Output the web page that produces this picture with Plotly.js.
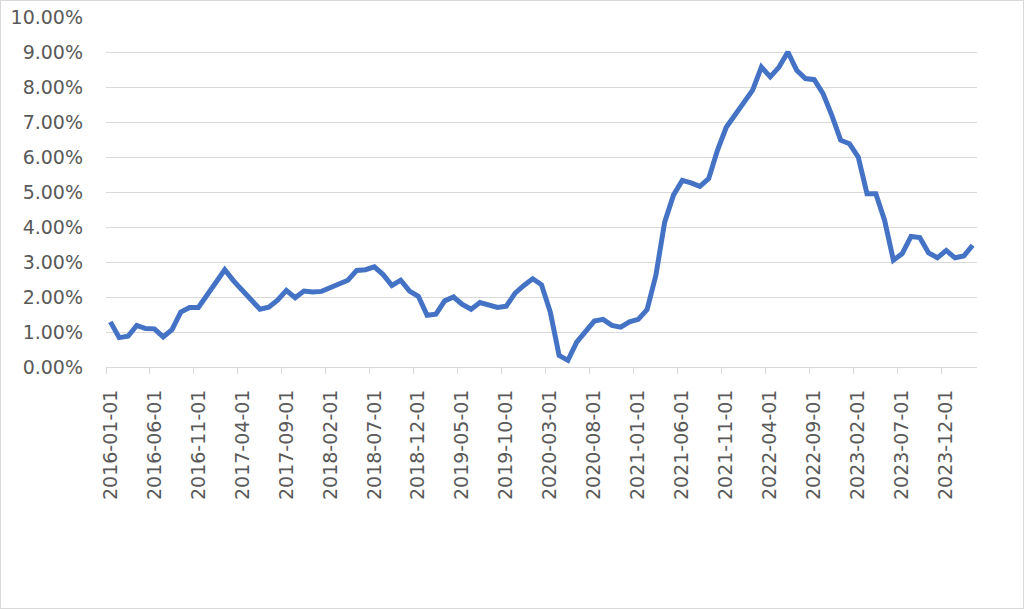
<!DOCTYPE html>
<html>
<head>
<meta charset="utf-8">
<script src="https://cdn.plot.ly/plotly-3.0.1.min.js"></script>
<style>
html,body{margin:0;padding:0;background:#fff;}
#wrap{position:relative;width:1024px;height:609px;}
#plot{position:absolute;left:0;top:0;width:1024px;height:609px;}
#frame{position:absolute;left:0;top:0;width:1024px;height:609px;box-sizing:border-box;border:1px solid #d9d9d9;pointer-events:none;}
</style>
</head>
<body>
<div id="wrap"><div id="plot"></div><div id="frame"></div></div>
<script>
const months = [
"2016-01-01","2016-02-01","2016-03-01","2016-04-01","2016-05-01","2016-06-01","2016-07-01","2016-08-01","2016-09-01","2016-10-01","2016-11-01","2016-12-01",
"2017-01-01","2017-02-01","2017-03-01","2017-04-01","2017-05-01","2017-06-01","2017-07-01","2017-08-01","2017-09-01","2017-10-01","2017-11-01","2017-12-01",
"2018-01-01","2018-02-01","2018-03-01","2018-04-01","2018-05-01","2018-06-01","2018-07-01","2018-08-01","2018-09-01","2018-10-01","2018-11-01","2018-12-01",
"2019-01-01","2019-02-01","2019-03-01","2019-04-01","2019-05-01","2019-06-01","2019-07-01","2019-08-01","2019-09-01","2019-10-01","2019-11-01","2019-12-01",
"2020-01-01","2020-02-01","2020-03-01","2020-04-01","2020-05-01","2020-06-01","2020-07-01","2020-08-01","2020-09-01","2020-10-01","2020-11-01","2020-12-01",
"2021-01-01","2021-02-01","2021-03-01","2021-04-01","2021-05-01","2021-06-01","2021-07-01","2021-08-01","2021-09-01","2021-10-01","2021-11-01","2021-12-01",
"2022-01-01","2022-02-01","2022-03-01","2022-04-01","2022-05-01","2022-06-01","2022-07-01","2022-08-01","2022-09-01","2022-10-01","2022-11-01","2022-12-01",
"2023-01-01","2023-02-01","2023-03-01","2023-04-01","2023-05-01","2023-06-01","2023-07-01","2023-08-01","2023-09-01","2023-10-01","2023-11-01","2023-12-01",
"2024-01-01","2024-02-01","2024-03-01"
];
const inflation = [
1.29,0.84,0.88,1.19,1.10,1.09,0.86,1.07,1.57,1.70,1.70,2.05,
2.46,2.78,2.46,2.19,1.89,1.65,1.71,1.91,2.19,1.98,2.17,2.14,
2.16,2.27,2.35,2.48,2.76,2.78,2.86,2.64,2.33,2.48,2.17,2.02,
1.48,1.51,1.89,2.00,1.79,1.65,1.84,1.76,1.70,1.74,2.11,2.33,
2.52,2.35,1.57,0.33,0.19,0.71,1.03,1.31,1.36,1.19,1.14,1.29,
1.36,1.64,2.62,4.14,4.91,5.33,5.26,5.16,5.38,6.19,6.85,7.19,
7.52,7.91,8.57,8.29,8.57,9.00,8.48,8.24,8.21,7.81,7.19,6.48,
6.38,6.00,4.95,4.95,4.19,3.05,3.24,3.73,3.70,3.26,3.12,3.33,
3.12,3.17,3.48
];

const fontFam = "DejaVu Sans, sans-serif";
const trace = {
  x: months,
  y: inflation,
  type: 'scatter',
  mode: 'lines',
  line: {color: '#4472C4', width: 5},
  hoverinfo: 'x+y'
};
const layout = {
  width: 1024, height: 609,
  margin: {l: 106, r: 47, t: 17, b: 242},
  paper_bgcolor: '#ffffff',
  plot_bgcolor: '#ffffff',
  showlegend: false,
  font: {family: fontFam, size: 19, color: '#595959'},
  xaxis: {
    type: 'category',
    range: [-0.5, months.length - 0.5],
    tickmode: 'linear', tick0: 0, dtick: 5,
    tickson: 'boundaries',
    ticks: 'outside', ticklen: 6, tickcolor: '#d9d9d9', tickwidth: 1,
    tickangle: -90,
    ticklabelstandoff: 14,
    showgrid: false,
    showline: true, linecolor: '#d9d9d9', linewidth: 1,
    tickfont: {family: fontFam, size: 19, color: '#595959'},
    zeroline: false
  },
  yaxis: {
    range: [0, 10],
    tickmode: 'linear', tick0: 0, dtick: 1,
    tickformat: '.2f', ticksuffix: '%',
    ticks: '',
    ticklabelstandoff: 22,
    showgrid: true, gridcolor: '#d9d9d9', gridwidth: 1,
    showline: false, zeroline: false,
    tickfont: {family: fontFam, size: 19, color: '#595959'}
  }
};
Plotly.newPlot('plot', [trace], layout, {displayModeBar: false, staticPlot: true});
</script>
</body>
</html>
